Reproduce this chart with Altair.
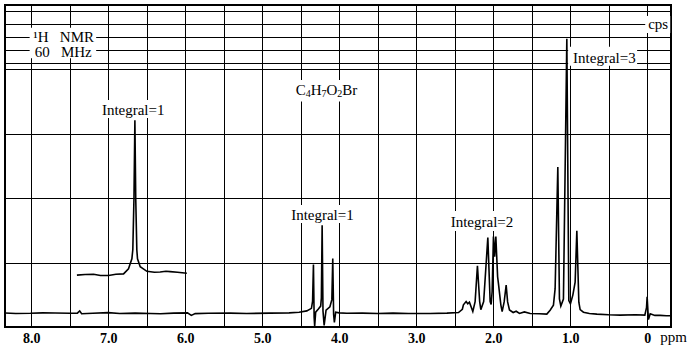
import altair as alt
import pandas as pd

# ---- spectrum trace (main sweep), ppm vs. recorder units (0-100) ----
main_ppm = [8.34, 8.20, 8.01, 7.85, 7.69, 7.50, 7.40, 7.37, 7.345, 7.20, 7.00, 6.85, 6.65, 6.45,
            6.32, 6.15, 5.97, 5.92, 5.87, 5.70, 5.42, 5.20, 4.90, 4.65, 4.52, 4.42, 4.36, 4.345,
            4.334, 4.325, 4.318, 4.305, 4.27, 4.24, 4.231, 4.221, 4.21, 4.195, 4.17, 4.12, 4.095,
            4.083, 4.072, 4.062, 4.045, 4.00, 3.90, 3.70, 3.50, 3.30, 3.10, 2.95, 2.82, 2.60, 2.45,
            2.40, 2.386, 2.351, 2.33, 2.308, 2.264, 2.234, 2.204, 2.175, 2.160, 2.123, 2.069, 2.039,
            2.026, 2.013, 1.996, 1.981, 1.965, 1.942, 1.931, 1.900, 1.883, 1.857, 1.831, 1.812,
            1.788, 1.74, 1.701, 1.658, 1.594, 1.519, 1.40, 1.303, 1.260, 1.217, 1.195, 1.160, 1.139,
            1.121, 1.087, 1.043, 1.017, 0.996, 0.965, 0.935, 0.913, 0.887, 0.870, 0.827, 0.75,
            0.653, 0.50, 0.35, 0.15, 0.03, 0.008, 0.0, -0.017, -0.04, -0.10, -0.17, -0.25, -0.31]
main_int = [4.35, 4.2, 4.25, 4.4, 4.35, 4.25, 4.3, 5.0, 4.1, 4.25, 4.45, 4.2, 4.3, 4.2,
            4.1, 4.3, 4.4, 3.6, 4.15, 4.25, 4.3, 4.2, 4.3, 4.4, 4.6, 5.0, 5.8, 8.0,
            19.4, 3.0, 0.3, 4.6, 5.6, 6.5, 9.0, 31.6, 5.0, 0.5, 5.2, 6.3, 8.5,
            21.3, 4.0, 1.4, 4.6, 4.4, 4.25, 4.3, 4.2, 4.3, 4.2, 4.2, 4.2, 4.3, 4.5,
            5.5, 6.9, 7.9, 7.2, 7.7, 4.8, 7.9, 19.0, 7.9, 5.4, 7.9, 27.8, 7.9,
            7.0, 11.0, 28.1, 21.8, 28.1, 15.6, 13.5, 6.9, 4.8, 7.8, 13.0, 7.8,
            5.3, 4.5, 4.9, 4.2, 4.7, 4.2, 4.1, 4.0, 5.2, 6.8, 11.9, 49.7, 8.7,
            6.5, 8.7, 89.5, 8.2, 7.2, 9.9, 13.9, 29.9, 7.7, 5.4, 4.6, 4.2,
            4.0, 3.8, 3.7, 3.8, 3.7, 6.0, 9.4, 2.3, 4.1, 3.6, 3.6, 3.5, 3.5]

# ---- offset inset trace (singlet near 6.65 ppm) ----
inset_ppm = [7.406, 7.30, 7.19, 7.10, 6.995, 6.90, 6.80, 6.736, 6.692, 6.68, 6.665, 6.653,
             6.642, 6.628, 6.619, 6.584, 6.497, 6.40, 6.325, 6.25, 6.195, 6.10, 5.978]
inset_int = [16.1, 16.3, 16.4, 16.0, 16.0, 16.4, 16.5, 18.1, 21.2, 24.0, 40.0, 64.2,
             40.0, 24.0, 21.2, 18.7, 17.3, 17.0, 17.1, 17.3, 17.2, 17.0, 16.7]

# ---- chart-paper grid and axis labels ----
grid_ppm = [8.0, 7.5, 7.0, 6.5, 6.0, 5.5, 5.0, 4.5, 4.0, 3.5, 3.0, 2.5, 2.0, 1.5, 1.0, 0.5, 0.0]
grid_units = [20, 40, 60, 80, 82, 86, 90, 94, 98]

# ---- annotations ----
NB = "\u00a0"
ann_text = ["\u00b9H" + NB * 3 + "NMR", "60" + NB * 3 + "MHz", "cps", "Integral=3",
            "Integral=1", "Integral=1", "Integral=2"]
ann_ppm = [7.578, 7.584, -0.143, 0.555, 6.675, 4.217, 2.145]
ann_units = [90.0, 85.3, 94.2, 83.4, 67.4, 34.8, 32.7]

# molecular formula C4H7O2Br: anchor point, then pieces (main letters and subscripts)
formula_ppm = 4.162
formula_units = 73.6
formula_main = ["C", "H", "O", "Br"]
formula_main_dx = [-31, -16, -0.2, 15.6]
formula_sub = ["4", "7", "2"]
formula_sub_dx = [-21, -5.2, 10.6]

box_ppm1 = [8.02, 0.025, 1.026, 7.104, 4.61, 4.662, 2.61]
box_ppm2 = [7.156, -0.30, 0.13, 6.234, 3.714, 3.766, 1.688]
box_u1 = [83.5, 91.3, 81.1, 64.9, 70.0, 32.3, 29.8]
box_u2 = [92.9, 96.6, 87.0, 70.5, 76.7, 37.9, 36.0]

main_df = pd.DataFrame({"ppm": main_ppm, "v": main_int, "i": range(len(main_ppm))})
inset_df = pd.DataFrame({"ppm": inset_ppm, "v": inset_int, "i": range(len(inset_ppm))})
ann_df = pd.DataFrame({"t": ann_text, "ppm": ann_ppm, "v": ann_units})
box_df = pd.DataFrame({"x1": box_ppm1, "x2": box_ppm2, "y1": box_u1, "y2": box_u2})
formula_df = pd.DataFrame({"ppm": [formula_ppm], "v": [formula_units]})

FONT = "Liberation Serif"

xscale = alt.Scale(domain=[-0.31, 8.34], reverse=True, nice=False, zero=False)
yscale = alt.Scale(domain=[0, 100], nice=False, zero=False)

xaxis = alt.Axis(
    values=grid_ppm, grid=True, ticks=False, domain=False,
    labelExpr="datum.value == 0 ? '0' : (datum.value % 1 == 0 ? format(datum.value, '.1f') : '')",
    labelFont=FONT, labelFontSize=14, labelFontWeight="bold", labelColor="black",
    labelPadding=4, labelOverlap=False, labelFlush=False,
    title="ppm", titleFont=FONT, titleFontSize=15, titleFontWeight="normal", titleColor="black",
    titleX=668, titleY=2, titleAlign="center", titleBaseline="top", titleAngle=0,
)
yaxis = alt.Axis(values=grid_units, grid=True, ticks=False, domain=False, labels=False, title=None)

base_x = alt.X("ppm:Q", scale=xscale, axis=xaxis)
base_y = alt.Y("v:Q", scale=yscale, axis=yaxis)

boxes = alt.Chart(box_df).mark_rect(fill="white").encode(
    x=alt.X("x1:Q", scale=xscale, axis=xaxis), x2="x2:Q",
    y=alt.Y("y1:Q", scale=yscale, axis=yaxis), y2="y2:Q",
)

main_line = alt.Chart(main_df).mark_line(color="black", strokeWidth=1.6, strokeJoin="miter").encode(
    x=base_x, y=base_y, order="i:Q"
)
inset_line = alt.Chart(inset_df).mark_line(color="black", strokeWidth=1.6, strokeJoin="miter").encode(
    x=base_x, y=base_y, order="i:Q"
)
labels = alt.Chart(ann_df).mark_text(
    font=FONT, fontSize=15, color="black", align="center", baseline="middle"
).encode(x=base_x, y=base_y, text="t:N")

formula_layers = []
for s, dx in zip(formula_main, formula_main_dx):
    formula_layers.append(
        alt.Chart(formula_df).mark_text(
            text=s, font=FONT, fontSize=15, color="black", align="left", baseline="middle", dx=dx
        ).encode(x=base_x, y=base_y)
    )
for s, dx in zip(formula_sub, formula_sub_dx):
    formula_layers.append(
        alt.Chart(formula_df).mark_text(
            text=s, font=FONT, fontSize=10, color="black", align="left", baseline="middle", dx=dx, dy=4
        ).encode(x=base_x, y=base_y)
    )

chart = alt.layer(boxes, main_line, inset_line, labels, *formula_layers).properties(
    width=666, height=322,
    autosize=alt.AutoSizeParams(type="none"),
    padding={"left": 5, "top": 5, "right": 19, "bottom": 20},
    background="white",
).configure_view(
    stroke="black", strokeWidth=2
).configure_axis(
    gridColor="black", gridOpacity=1, gridWidth=1
)

chart.save("out.html", embed_options={"renderer": "svg", "actions": False})
